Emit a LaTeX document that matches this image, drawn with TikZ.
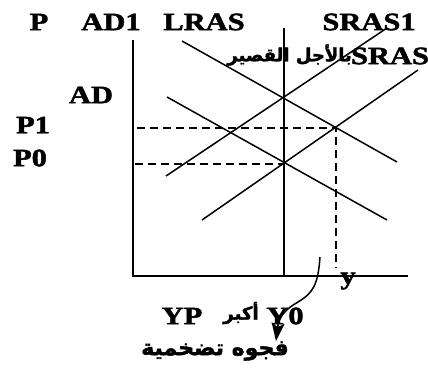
\documentclass[tikz,border=0pt]{standalone}
\usepackage{fontspec}
\usepackage{tikz}
\usetikzlibrary{arrows.meta}
\setmainfont{Liberation Serif}
\newfontfamily\lblfont[FakeBold=1.6]{Liberation Serif Bold}
\newfontfamily\arabicfont[Script=Arabic,FakeBold=2]{DejaVu Sans Bold}
\TeXXeTstate=1
\newcommand\wlbl[1]{\scalebox{1.22}[1]{#1}}

\tikzset{
  lbl/.style={font=\lblfont\fontsize{25}{25}\selectfont, inner sep=0pt},
  arlbl/.style={font=\arabicfont\fontsize{13}{13}\selectfont, inner sep=0pt},
  curve/.style={line width=1.5pt},
  guide/.style={line width=1.9pt, dash pattern=on 8pt off 5pt},
}

\begin{document}
\begin{tikzpicture}[x=1pt,y=-1pt]
\useasboundingbox (0,0) rectangle (428,374);

%%% axes
\coordinate (axtop) at (133,40);
\coordinate (origin) at (133,276);
\coordinate (axright) at (408,276);
\draw[curve] (axtop) to (origin) to (axright);

%%% long run supply
\coordinate (lrastop) at (284,28);
\coordinate (lrasbot) at (284,276);
\draw[curve] (lrastop) to (lrasbot);

%%% demand curves
\coordinate (ad1a) at (182,41);
\coordinate (ad1b) at (397,162);
\coordinate (ada) at (167,97);
\coordinate (adb) at (387,220);
\draw[curve] (ad1a) to (ad1b);
\draw[curve] (ada) to (adb);

%%% short run supply curves
\coordinate (srasa) at (202,220);
\coordinate (srasb) at (418,70);
\coordinate (sras1a) at (166,176);
\coordinate (sras1b) at (387,28);
\draw[curve] (srasa) to (srasb);
\draw[curve] (sras1a) to (sras1b);

%%% equilibrium guides
\coordinate (e0) at (284,164);
\coordinate (e1) at (336,128);
\coordinate (p0l) at (135,164);
\coordinate (p1l) at (137,128);
\coordinate (y1b) at (336,268);
\draw[guide] (p1l) to (e1) to (y1b);
\draw[guide] (p0l) to (e0);

%%% labels
\node[lbl] (p) at (39,22) {\wlbl{P}};
\node[lbl] (ad1) at (111,22) {\wlbl{AD1}};
\node[lbl] (lras) at (204,22) {\wlbl{LRAS}};
\node[lbl] (sras1) at (369,22) {\wlbl{SRAS1}};
\node[lbl] (sras) at (390,56) {\wlbl{SRAS}};
\node[arlbl, font=\arabicfont\fontsize{18}{18}\selectfont, anchor=east] (short) at (352,55) {\beginR بالأجل القصير\endR};
\node[lbl] (ad) at (91,95) {\wlbl{AD}};
\node[lbl] (p1) at (33,125) {\wlbl{P1}};
\node[lbl] (p0) at (30,158) {\wlbl{P0}};
\node[lbl] (y) at (348,281) {\wlbl{y}};
\node[lbl] (yp) at (182,316) {\wlbl{YP}};
\node[arlbl, font=\arabicfont\fontsize{18}{18}\selectfont] (bigger) at (241,313) {\beginR أكبر\endR};
\node[lbl] (y0) at (285,316) {\wlbl{Y0}};
\node[arlbl, font=\arabicfont\fontsize{22}{22}\selectfont] (gap) at (215,351) {\beginR فجوه تضخمية\endR};

%%% pointer to the gap
\coordinate (ptr) at (320,257);
\coordinate (tip) at (276,341);
\draw[curve, -{Stealth[length=18pt,width=13pt,inset=4pt]}] (ptr) .. controls (318,285) and (313,293) .. (298,302) .. controls (286,309) and (279,316) .. (tip);
\end{tikzpicture}
\end{document}
